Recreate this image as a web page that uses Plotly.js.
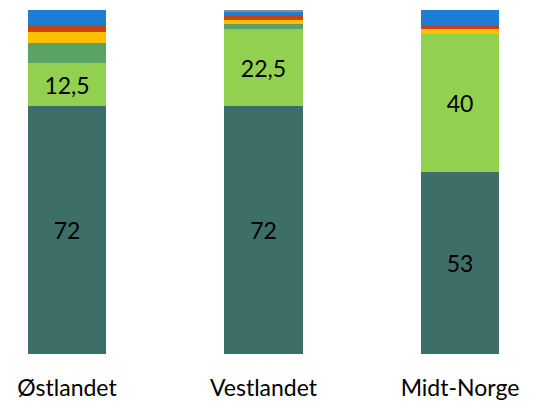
<!DOCTYPE html>
<html>
<head>
<meta charset="utf-8">
<script src="https://cdn.plot.ly/plotly-3.0.1.min.js"></script>
<style>html,body{margin:0;padding:0;background:#fff;}#chart{width:537px;height:404px;}</style>
</head>
<body>
<div id="chart"></div>
<script>
const categories = ["Østlandet", "Vestlandet", "Midt-Norge"];
const seriesA = [72, 72, 53];
const seriesB = [12.5, 22.5, 40];
const seriesC = [6, 1.5, 0];
const seriesD = [3, 1, 1.5];
const seriesE = [2, 1.5, 1];
const seriesF = [4.5, 1, 4.5];
const seriesG = [0, 0.5, 0];
const showLabels = [true, true, false, false, false, false, false];
const colors = ["#3E6E68", "#92D050", "#5BA266", "#FFC000", "#C9450F", "#1F7ED4", "#8C8C8C"];
const allSeries = [seriesA, seriesB, seriesC, seriesD, seriesE, seriesF, seriesG];

const fmt = v => String(v).replace('.', ',');
const traces = allSeries.map((vals, i) => ({
  type: 'bar',
  x: categories,
  y: vals,
  width: 0.40,
  marker: {color: colors[i], line: {width: 0}},
  text: showLabels[i] ? vals.map(fmt) : undefined,
  textposition: showLabels[i] ? 'inside' : 'none',
  insidetextanchor: 'middle',
  textangle: 0,
  constraintext: 'none',
  insidetextfont: {family: 'Lato, "Open Sans", sans-serif', size: 23, color: '#000'},
  hoverinfo: 'none'
}));

Plotly.newPlot('chart', traces, {
  barmode: 'stack',
  width: 537, height: 404,
  margin: {l: 0, r: 0, t: 10, b: 50},
  paper_bgcolor: '#fff', plot_bgcolor: '#fff',
  showlegend: false,
  font: {family: 'Lato, "Open Sans", sans-serif', size: 23, color: '#000'},
  xaxis: {range: [-0.341, 2.392], showgrid: false, zeroline: false, showline: false, ticks: '', ticklabelstandoff: 18, tickfont: {size: 23}},
  yaxis: {range: [0, 100], visible: false, showgrid: false, zeroline: false}
}, {displayModeBar: false, staticPlot: true});
</script>
</body>
</html>
